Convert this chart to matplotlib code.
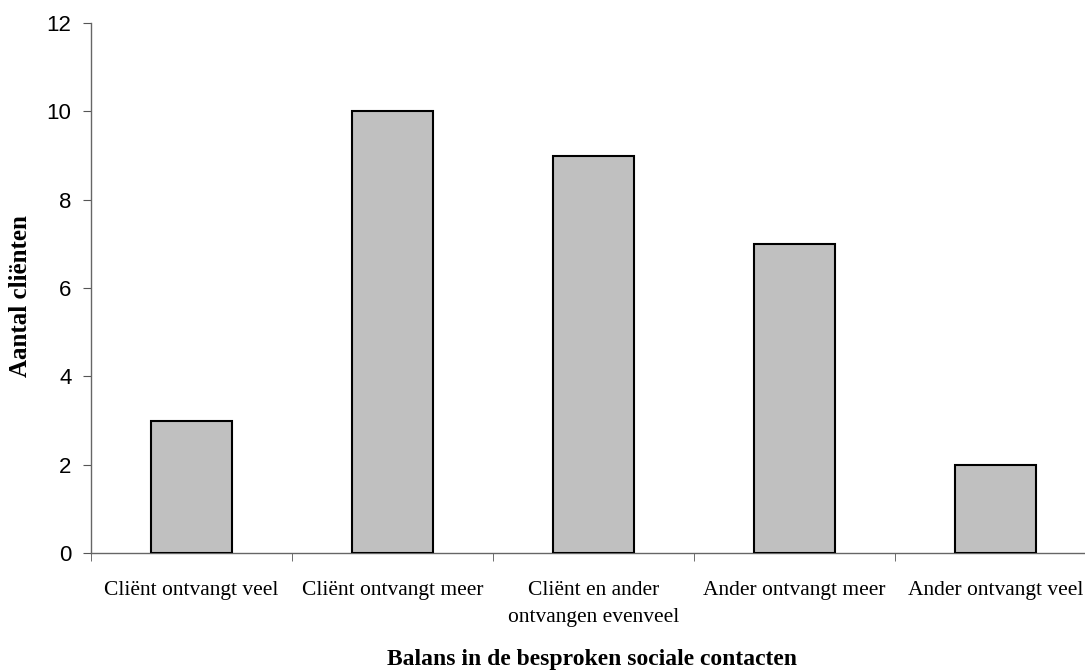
import numpy as np
from matplotlib import pyplot as plt

categories = ['Cliënt ontvangt veel', 'Cliënt ontvangt meer', 'Cliënt en ander\nontvangen evenveel',
              'Ander ontvangt meer', 'Ander ontvangt veel']
counts = [3, 10, 9, 7, 2]
yticks = [0, 2, 4, 6, 8, 10, 12]

fig = plt.figure(figsize=(10.85, 6.71), dpi=100)
ax = fig.add_axes([91 / 1085, 1 - 553 / 671, 1005 / 1085, 530 / 671])

x = np.arange(len(categories))
ax.bar(x, counts, width=0.4, color='#c0c0c0', edgecolor='black', linewidth=1.5, zorder=3)

ax.set_xlim(-0.5, len(categories) - 0.5)
ax.set_ylim(0, 12)
ax.set_yticks(yticks)
ax.set_yticklabels([str(v) for v in yticks], family='Liberation Sans', fontsize=16)
ax.set_xticks(x)
ax.set_xticklabels(categories, family='Liberation Serif', fontsize=15.5, linespacing=1.6)
ax.set_xticks(np.arange(len(categories) + 1) - 0.5, minor=True)
ax.tick_params(axis='x', which='major', length=0, pad=20)
ax.tick_params(axis='x', which='minor', length=6, color='#555555', direction='out')
ax.tick_params(axis='y', length=6, color='#555555', pad=8)

for s in ['top', 'right']:
    ax.spines[s].set_visible(False)
for s in ['left', 'bottom']:
    ax.spines[s].set_color('#666666')
    ax.spines[s].set_linewidth(1)

ax.set_ylabel('Aantal cliënten', family='Liberation Serif', fontsize=18, fontweight='bold')
ax.yaxis.set_label_coords(-70 / 1005, (553 - 296) / 530)
ax.set_xlabel('Balans in de besproken sociale contacten', family='Liberation Serif',
              fontsize=17, fontweight='bold')
ax.xaxis.set_label_coords((592 - 91) / 1005, -(660 - 553) / 530)
ax.xaxis.label.set_va('center')
ax.yaxis.label.set_va('center')

plt.savefig('out.png', dpi=100)
plt.close(fig)
